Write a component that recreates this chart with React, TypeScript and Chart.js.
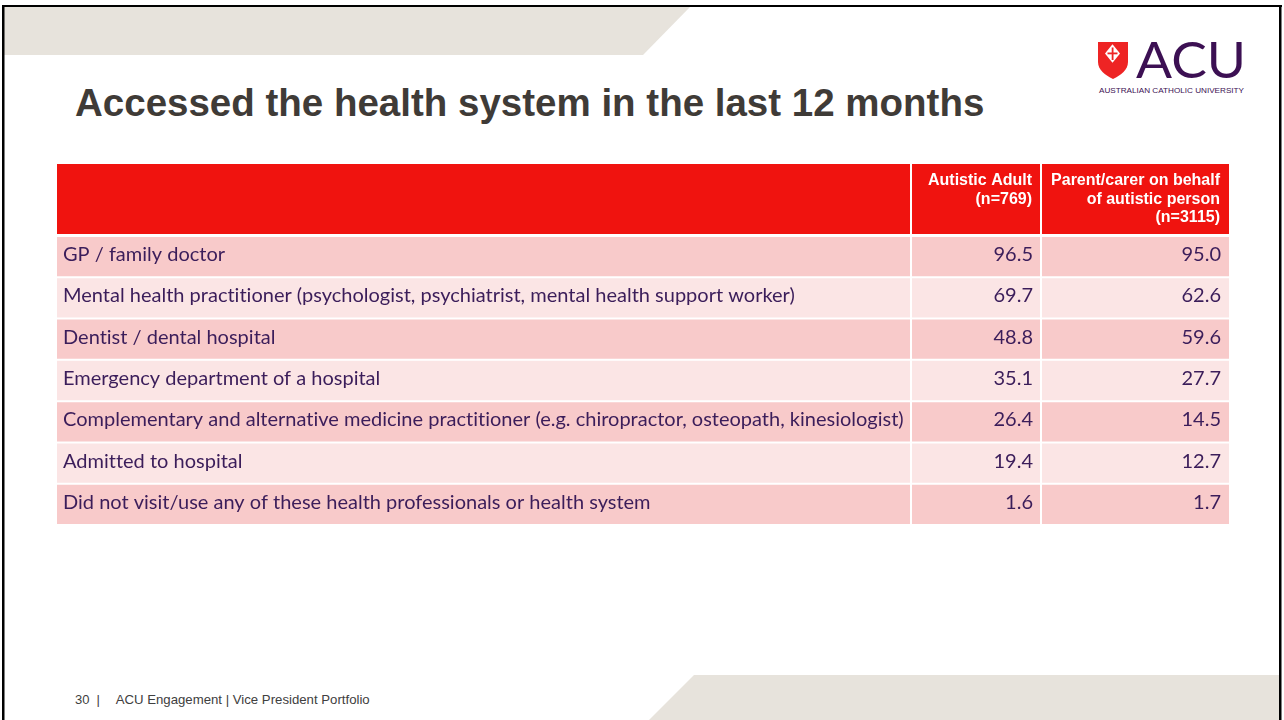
import React, { useEffect, useRef } from 'react';
import { Chart, registerables } from 'chart.js';

Chart.register(...registerables);

// ---------- data ----------
const categories = [
  'GP / family doctor',
  'Mental health practitioner (psychologist, psychiatrist, mental health support worker)',
  'Dentist / dental hospital',
  'Emergency department of a hospital',
  'Complementary and alternative medicine practitioner (e.g. chiropractor, osteopath, kinesiologist)',
  'Admitted to hospital',
  'Did not visit/use any of these health professionals or health system',
];
const autisticAdult = [96.5, 69.7, 48.8, 35.1, 26.4, 19.4, 1.6];
const parentCarer = [95.0, 62.6, 59.6, 27.7, 14.5, 12.7, 1.7];
const seriesNames = ['Autistic Adult (n=769)', 'Parent/carer on behalf of autistic person (n=3115)'];
const headerLines = [
  ['Autistic Adult', '(n=769)'],
  ['Parent/carer on behalf', 'of autistic person', '(n=3115)'],
];
const titleText = 'Accessed the health system in the last 12 months';
const pageNumber = '30';
const footerText = 'ACU Engagement | Vice President Portfolio';

// ---------- layout / style ----------
const COL_EDGES = [0, 854, 984, 1172];
const TEXT = '#3b1d5a';
const HEADER_RED = '#f0130f';
const ROW_DARK = '#f8caca';
const ROW_LIGHT = '#fbe5e5';
const BEIGE = '#e7e3dc';
const LABEL_OFFSET = -2;

function fitFontSize(): number {
  const c: any = document.createElement('canvas').getContext('2d');
  if (!c) return 18;
  c.font = '100px Lato';
  try { c.textRendering = 'optimizeSpeed'; } catch (e) { /* ignore */ }
  const w = Math.max(...categories.map((t) => c.measureText(t).width));
  return Math.round((100 * 839) / w * 10) / 10;
}

export default function App() {
  const ref = useRef<HTMLCanvasElement | null>(null);

  useEffect(() => {
    document.body.style.margin = '0';
    const canvas = ref.current;
    if (!canvas) return;
    const size = fitFontSize();
    const font = { family: 'Lato', size };

    const cell = (edgeA: number, edgeB: number, bw: any) => ({
      backgroundColor: (ctx: any) => (ctx.dataIndex % 2 === 0 ? ROW_DARK : ROW_LIGHT),
      borderColor: '#ffffff',
      borderWidth: bw,
      borderSkipped: false,
      barPercentage: 1,
      categoryPercentage: 1,
      grouped: false,
      inflateAmount: 0,
      data: categories.map(() => [COL_EDGES[edgeA], COL_EDGES[edgeB]]),
    });

    const tablePlugin = {
      id: 'tableText',
      beforeDraw(chart: any) {
        try { chart.ctx.textRendering = 'optimizeSpeed'; } catch (e) { /* ignore */ }
      },
      afterDatasetsDraw(chart: any) {
        const { ctx, chartArea } = chart;
        const x = chart.scales.x;
        const top = chartArea.top - 72;
        const h = 70;
        ctx.save();
        ctx.fillStyle = HEADER_RED;
        ctx.fillRect(chartArea.left, top, chartArea.right - chartArea.left, h);
        ctx.fillStyle = '#ffffff';
        [COL_EDGES[1], COL_EDGES[2]].forEach((e) => {
          const px = x.getPixelForValue(e);
          ctx.fillRect(px - 1, top, 2, h);
        });
        ctx.font = 'bold 16px "Liberation Sans", Arial, sans-serif';
        ctx.textAlign = 'right';
        ctx.textBaseline = 'alphabetic';
        headerLines.forEach((lines, c) => {
          const right = x.getPixelForValue(COL_EDGES[c + 2]) - 9;
          lines.forEach((ln, k) => ctx.fillText(ln, right, top + 21 + k * 18.5));
        });
        ctx.fillStyle = TEXT;
        ctx.font = `${size}px Lato`;
        ctx.textBaseline = 'middle';
        [autisticAdult, parentCarer].forEach((vals, c) => {
          const meta = chart.getDatasetMeta(c + 1);
          meta.data.forEach((bar: any, i: number) => {
            const p = bar.getProps(['x', 'base', 'y'], true);
            ctx.fillText(vals[i].toFixed(1), Math.max(p.x, p.base) - 8, p.y + LABEL_OFFSET);
          });
        });
        ctx.restore();
      },
    };

    const chart = new Chart(canvas, {
      type: 'bar',
      data: {
        labels: categories,
        datasets: [
          { label: 'Health service', ...cell(0, 1, { top: 1, bottom: 1, left: 0, right: 1 }) },
          { label: seriesNames[0], ...cell(1, 2, { top: 1, bottom: 1, left: 1, right: 1 }) },
          { label: seriesNames[1], ...cell(2, 3, { top: 1, bottom: 1, left: 1, right: 0 }) },
        ] as any,
      },
      options: {
        indexAxis: 'y',
        responsive: false,
        animation: false,
        events: [],
        layout: { padding: { left: 45, right: 55, top: 236, bottom: 195 } },
        plugins: {
          legend: { display: false },
          tooltip: { enabled: false },
          title: { display: false },
        },
        scales: {
          x: { type: 'linear', min: 0, max: COL_EDGES[3], display: false },
          y: {
            type: 'category',
            offset: true,
            grid: { display: false, drawTicks: false },
            border: { display: false },
            ticks: {
              mirror: true,
              padding: 6,
              z: 1,
              autoSkip: false,
              color: TEXT,
              font,
              labelOffset: LABEL_OFFSET,
              crossAlign: 'near',
            },
          },
        },
      } as any,
      plugins: [tablePlugin],
    });
    return () => chart.destroy();
  }, []);

  const sans = "'Liberation Sans', Arial, sans-serif";
  return (
    <div style={{ position: 'absolute', left: 0, top: 0, width: 1284, height: 720, background: '#fff', overflow: 'hidden' }}>
      <svg width={1284} height={720} style={{ position: 'absolute', left: 0, top: 0 }}>
        <polygon points="4,7 690,7 643,55 4,55" fill={BEIGE} />
        <polygon points="694,675 1279,675 1279,720 649,720" fill={BEIGE} />
        <rect x={2} y={5} width={1280} height={2} fill="#000" />
        <rect x={2} y={5} width={2.5} height={715} fill="#000" />
        <rect x={1279} y={5} width={2.5} height={715} fill="#000" />
        <text x={75} y={116} fontFamily={sans} fontWeight="bold" fontSize={38.5} fill="#3f3b37">{titleText}</text>
        {/* logo */}
        <path d="M1098,42 H1128 V62 C1128,70 1121,75 1113,79 C1105,75 1098,70 1098,62 Z" fill="#ee2424" />
        <path d="M1112.5,44.3 L1120,53.5 L1112.5,62.7 L1105,53.5 Z" fill="#ffffff" />
        <rect x={1111.7} y={47.5} width={1.8} height={12.5} fill="#ee2424" />
        <rect x={1107.5} y={52.5} width={10} height={1.8} fill="#ee2424" />
        <text x={1136} y={78} fontFamily="Lato, sans-serif" fontSize={50} fill="#3c1053" textLength={110} lengthAdjust="spacingAndGlyphs">ACU</text>
        <text x={1099} y={93.3} fontFamily={sans} fontSize={7} fill="#3c1053" textLength={145} lengthAdjust="spacingAndGlyphs">AUSTRALIAN CATHOLIC UNIVERSITY</text>
        {/* footer */}
        <text x={75} y={704} fontFamily={sans} fontSize={13} fill="#404040">{pageNumber}</text>
        <text x={96.5} y={704} fontFamily={sans} fontSize={13} fill="#404040">|</text>
        <text x={115.7} y={704} fontFamily={sans} fontSize={13} fill="#404040" textLength={254} lengthAdjust="spacingAndGlyphs">{footerText}</text>
      </svg>
      <canvas ref={ref} width={1284} height={720} style={{ position: 'absolute', left: 0, top: 0, width: 1284, height: 720 }} />
    </div>
  );
}
